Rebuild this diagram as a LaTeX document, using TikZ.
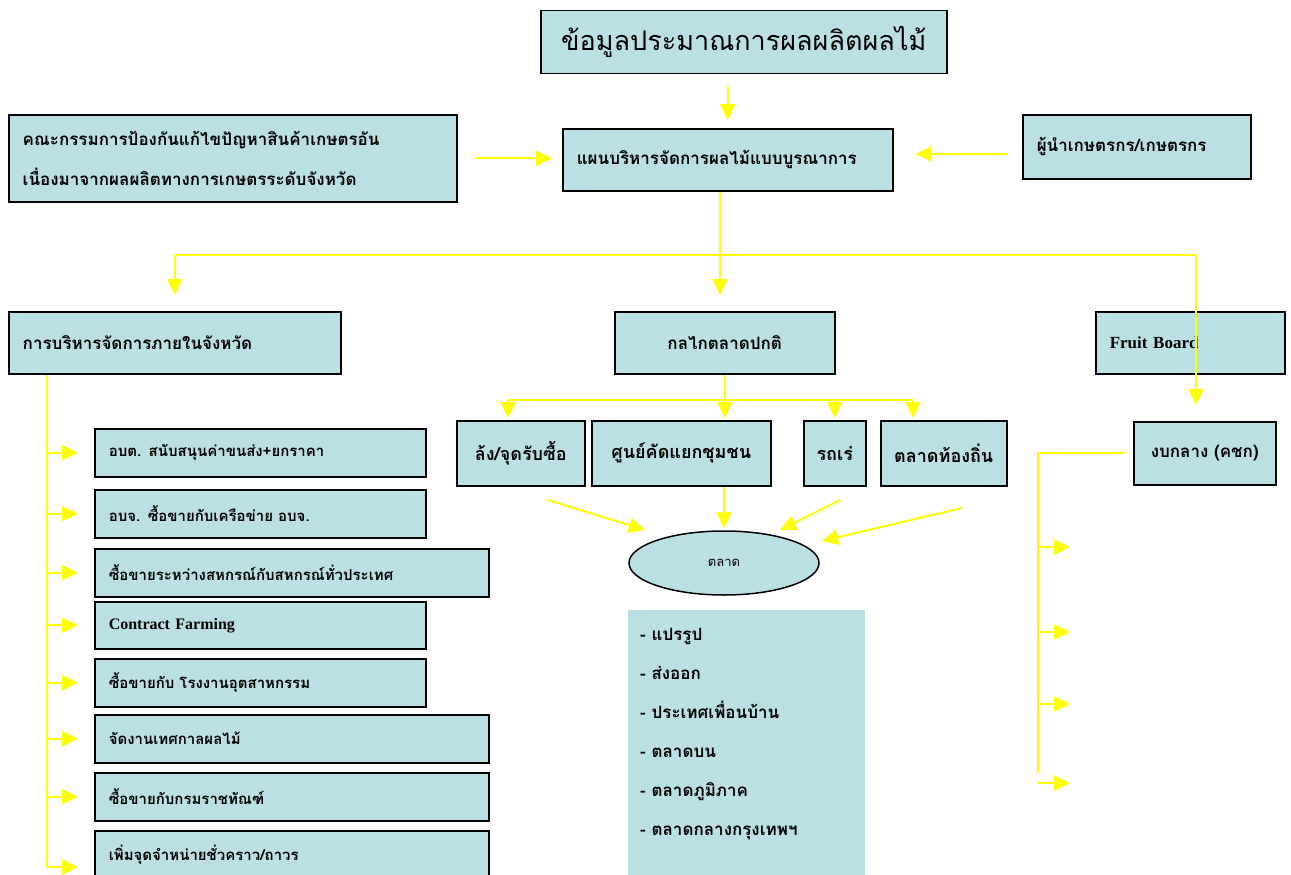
\documentclass[tikz,border=0pt]{standalone}
\usepackage{fontspec}
\setmainfont{Liberation Serif}
\newfontfamily\thaifont[Script=Thai]{Loma}
\usetikzlibrary{arrows.meta,shapes.geometric}
\definecolor{boxblue}{RGB}{187,224,227}
\definecolor{flowyellow}{RGB}{255,255,0}

\begin{document}
\begin{tikzpicture}[x=1pt,y=-1pt,
  box/.style={draw=black,line width=1.5pt,fill=boxblue,anchor=north west,inner xsep=14pt,inner ysep=0pt,
    font=\thaifont\bfseries\fontsize{17}{40}\selectfont},
  subbox/.style={box,minimum height=48pt,font=\thaifont\bfseries\fontsize{15}{18}\selectfont},
  link/.style={draw=flowyellow,line width=2pt},
  flow/.style={link,-{Triangle[length=16pt,width=15pt]}}]
		\useasboundingbox (0,0) rectangle (1291,875);

		% top level
		\node[box,minimum width=406pt,minimum height=63pt,align=center,font=\thaifont\fontsize{27}{34}\selectfont] (title) at (540,10) {ข้อมูลประมาณการผลผลิตผลไม้};
		\node[box,minimum height=62pt,text width=302pt,align=left] (plan) at (562,128) {แผนบริหารจัดการผลไม้แบบบูรณาการ};
		\node[box,minimum height=87pt,text width=420pt,align=left] (committee) at (8,114) {คณะกรรมการป้องกันแก้ไขปัญหาสินค้าเกษตรอัน\\เนื่องมาจากผลผลิตทางการเกษตรระดับจังหวัด};
		\node[box,minimum height=64pt,text width=200pt,align=left] (leader) at (1022,114) {ผู้นำเกษตรกร/เกษตรกร};

		% second level
		\node[box,minimum height=62pt,text width=304pt,align=left] (internal) at (8,311) {การบริหารจัดการภายในจังหวัด};
		\node[box,minimum height=62pt,minimum width=220pt,align=center] (market) at (614,311) {กลไกตลาดปกติ};
		\node[box,minimum height=62pt,text width=161pt,align=left,font=\bfseries\fontsize{17}{20}\selectfont] (fruit) at (1095,311) {Fruit Board};
		\node[box,minimum height=63pt,minimum width=142pt,inner xsep=6pt,align=center] (budget) at (1133,421) {งบกลาง (คชก)};

		% market channels
		\node[box,minimum height=65pt,minimum width=128pt,inner xsep=6pt,font=\thaifont\bfseries\fontsize{18}{22}\selectfont] (lhong) at (456,420) {ล้ง/จุดรับซื้อ};
		\node[box,minimum height=65pt,minimum width=179pt,inner xsep=6pt,font=\thaifont\bfseries\fontsize{18}{22}\selectfont] (center) at (591,420) {ศูนย์คัดแยกชุมชน};
		\node[box,minimum height=65pt,minimum width=62pt,inner xsep=6pt,font=\thaifont\bfseries\fontsize{18}{22}\selectfont] (truck) at (803,420) {รถเร่};
		\node[box,minimum height=65pt,minimum width=126pt,inner xsep=6pt,font=\thaifont\bfseries\fontsize{18}{22}\selectfont] (local) at (880,420) {ตลาดท้องถิ่น};
		\node[ellipse,draw=black,line width=1.5pt,fill=boxblue,minimum width=190pt,minimum height=64pt,font=\thaifont\fontsize{13}{16}\selectfont] (mkt) at (724,563) {ตลาด};
		\node[fill=boxblue,anchor=north west,inner sep=0pt,inner xsep=12pt] (outlets) at (628,610)
			{\parbox[c][265pt][t]{213pt}{\vspace*{18pt}\thaifont\bfseries\fontsize{17}{39}\selectfont\raggedright
			- แปรรูป\\- ส่งออก\\- ประเทศเพื่อนบ้าน\\- ตลาดบน\\- ตลาดภูมิภาค\\- ตลาดกลางกรุงเทพฯ}};

		% provincial measures
		\node[subbox,minimum width=331pt,text width=303pt] (b1) at (94,428) {อบต. สนับสนุนค่าขนส่ง+ยกราคา};
		\node[subbox,minimum width=331pt,text width=303pt] (b2) at (94,489) {อบจ. ซื้อขายกับเครือข่าย อบจ.};
		\node[subbox,minimum width=394pt,text width=366pt] (b3) at (94,548) {ซื้อขายระหว่างสหกรณ์กับสหกรณ์ทั่วประเทศ};
		\node[subbox,minimum width=331pt,text width=303pt,minimum height=47pt,font=\bfseries\fontsize{16}{18}\selectfont] (b4) at (94,601) {Contract Farming};
		\node[subbox,minimum width=331pt,text width=303pt] (b5) at (94,658) {ซื้อขายกับ โรงงานอุตสาหกรรม};
		\node[subbox,minimum width=394pt,text width=366pt] (b6) at (94,714) {จัดงานเทศกาลผลไม้};
		\node[subbox,minimum width=394pt,text width=366pt] (b7) at (94,772) {ซื้อขายกับกรมราชทัณฑ์};
		\node[subbox,minimum width=394pt,text width=366pt] (b8) at (94,830) {เพิ่มจุดจำหน่ายชั่วคราว/ถาวร};

		% free ends
		\coordinate (lf) at (1008,154);
		\coordinate (fork) at (720,255);
		\coordinate (forkR) at (1196,255);
		\coordinate (rowL) at (508,400);
		\coordinate (rowR) at (913,400);
		\coordinate (s1) at (548,500);
		\coordinate (e1) at (645,530);
		\coordinate (s3) at (840,500);
		\coordinate (e3) at (780,530);
		\coordinate (s4) at (962,508);
		\coordinate (e4) at (822,541);
		\coordinate (spine) at (47,867);
		\coordinate (rspine) at (1038,773);
		\coordinate (o1) at (1070,547);
		\coordinate (o2) at (1070,632);
		\coordinate (o3) at (1070,704);
		\coordinate (o4) at (1070,783);

		\path[flow,shorten <=12pt,shorten >=8pt] (plan.north |- title.south) -- (plan.north);
		\path[flow,shorten <=18pt,shorten >=10pt] (committee.east) -- (committee.east -| plan.west);
		\path[flow,shorten >=22pt] (lf) -- (lf -| plan.east);

		\path[link] (fork |- plan.south) -- (fork);
		\path[link] (fork -| internal.north) -- (forkR);
		\path[flow,shorten >=16pt] (fork -| internal.north) -- (internal.north);
		\path[flow,shorten >=16pt] (fork) -- (fork |- market.north);
		\path[flow,shorten >=16pt] (forkR) -- (forkR |- budget.north);

		\path[link] (rowL) -- (rowR);
		\path[flow,shorten >=2pt] (market.south) -- (market.south |- center.north);
		\path[flow,shorten >=2pt] (rowL) -- (rowL |- lhong.north);
		\path[flow,shorten >=2pt] (rowL -| truck.north) -- (truck.north);
		\path[flow,shorten >=2pt] (rowR) -- (rowR |- local.north);

		\path[flow] (s1) -- (e1);
		\path[flow,shorten >=2pt] (mkt.north |- center.south) -- (mkt.north);
		\path[flow] (s3) -- (e3);
		\path[flow] (s4) -- (e4);

		\path[link] (spine |- internal.south) -- (spine);
		\path[flow,shorten >=16pt] (spine |- b1.west) -- (b1.west);
		\path[flow,shorten >=16pt] (spine |- b2.west) -- (b2.west);
		\path[flow,shorten >=16pt] (spine |- b3.west) -- (b3.west);
		\path[flow,shorten >=16pt] (spine |- b4.west) -- (b4.west);
		\path[flow,shorten >=16pt] (spine |- b5.west) -- (b5.west);
		\path[flow,shorten >=16pt] (spine |- b6.west) -- (b6.west);
		\path[flow,shorten >=16pt] (spine |- b7.west) -- (b7.west);
		\path[flow,shorten >=16pt] (spine) -- (spine -| b8.west);

		\path[link,shorten <=8pt] (budget.west) -- (budget.west -| rspine) -- (rspine);
		\path[flow] (rspine |- o1) -- (o1);
		\path[flow] (rspine |- o2) -- (o2);
		\path[flow] (rspine |- o3) -- (o3);
		\path[flow] (rspine |- o4) -- (o4);
\end{tikzpicture}
\end{document}
